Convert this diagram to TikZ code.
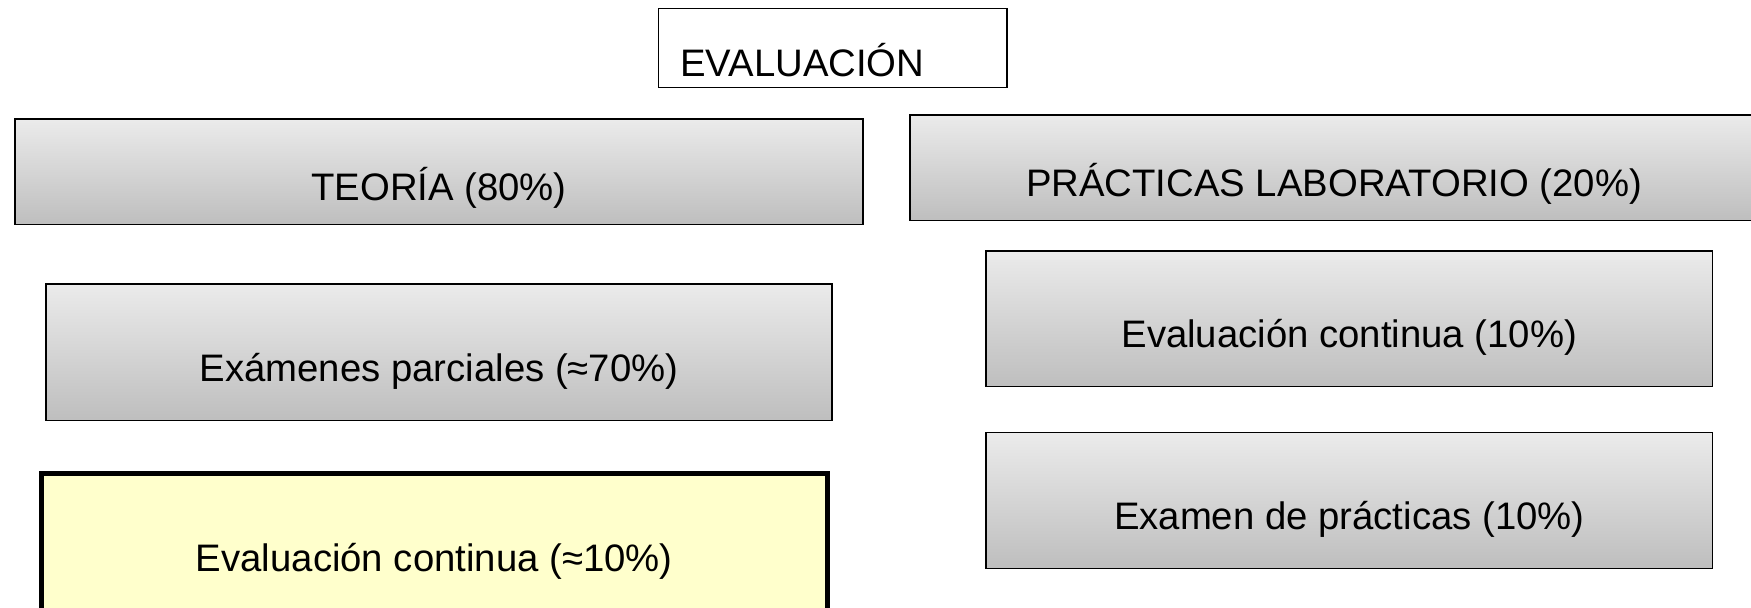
\documentclass[tikz,border=0pt]{standalone}
\usepackage{fontspec}
\setmainfont{Liberation Sans}
\definecolor{boxtop}{RGB}{235,235,235}
\definecolor{boxbot}{RGB}{190,190,190}
\definecolor{notefill}{RGB}{255,255,204}

\begin{document}
\begin{tikzpicture}[every node/.style={font=\fontsize{21.8}{26}\selectfont, draw, inner sep=0pt, text height=1.26cm, text depth=0.1cm},
	greybox/.style={line width=0.85pt, top color=boxtop, bottom color=boxbot},
	notebox/.style={line width=2.8pt, fill=notefill}]
	\useasboundingbox (0,0) rectangle (35.02,-12.16);
	\node[line width=0.85pt, fill=white, text width=6.09cm, inner xsep=0.44cm, align=left, minimum height=1.58cm] (eval) at (16.65,-0.956) {EVALUACIÓN};
	% teoria
	\node[greybox, minimum width=16.96cm, minimum height=2.106cm] (teoria) at (8.78,-3.434) {TEORÍA (80\%)};
	\node[greybox, minimum width=15.72cm, minimum height=2.734cm] (parciales) at (8.78,-7.046) {Exámenes parciales (≈70\%)};
	\node[notebox, minimum width=15.73cm, minimum height=2.734cm] (tcontinua) at (8.686,-10.846) {Evaluación continua (≈10\%)};
	% practicas
	\node[greybox, minimum width=16.96cm, minimum height=2.114cm] (practicas) at (26.68,-3.357) {PRÁCTICAS LABORATORIO (20\%)};
	\node[greybox, minimum width=14.534cm, minimum height=2.714cm] (pcontinua) at (26.986,-6.376) {Evaluación continua (10\%)};
	\node[greybox, minimum width=14.534cm, minimum height=2.712cm] (pexamen) at (26.986,-10.01) {Examen de prácticas (10\%)};
\end{tikzpicture}
\end{document}
